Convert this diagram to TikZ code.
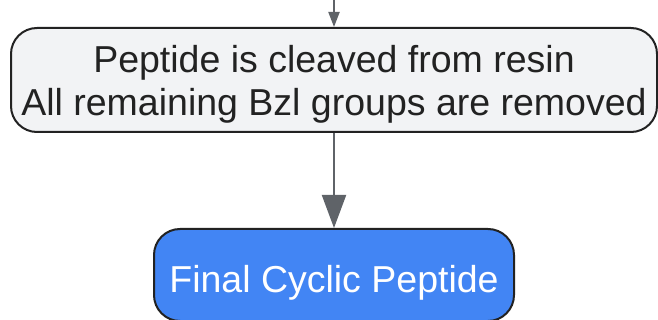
\documentclass[tikz,border=0pt]{standalone}
\usepackage{fontspec}
\setmainfont{Liberation Sans}
\usetikzlibrary{arrows.meta}
\definecolor{boxgray}{HTML}{F2F3F5}
\definecolor{boxblue}{HTML}{4285F4}
\definecolor{linegray}{HTML}{5F6368}
\definecolor{edgedark}{HTML}{222222}
\begin{document}
\begin{tikzpicture}[x=1pt,y=-1pt,
  stepbox/.style={rectangle,rounded corners=26pt,draw=edgedark,line width=2pt,align=center,inner sep=0pt,font=\fontsize{37.5}{43}\selectfont},
  flow/.style={draw=linegray,line width=2pt,-{Stealth[inset=0pt,length=33pt,width=24pt]}}]
\useasboundingbox (0,0) rectangle (658,320);
\coordinate (top) at (334,0);
\node at (334,80) [stepbox,fill=boxgray,text=edgedark,minimum width=646pt,minimum height=104pt] (cleave) {\rule{0pt}{35pt}Peptide is cleaved from resin\\All remaining Bzl groups are removed};
\node at (334,275) [stepbox,fill=boxblue,text=white,minimum width=360pt,minimum height=92pt] (final) {\rule{0pt}{42pt}Final Cyclic Peptide};
%
\draw[flow,-{Stealth[inset=0pt,length=15pt,width=11pt]}] (top) -- (cleave.north);
\draw[flow] (cleave) -- (final);
\end{tikzpicture}
\end{document}
